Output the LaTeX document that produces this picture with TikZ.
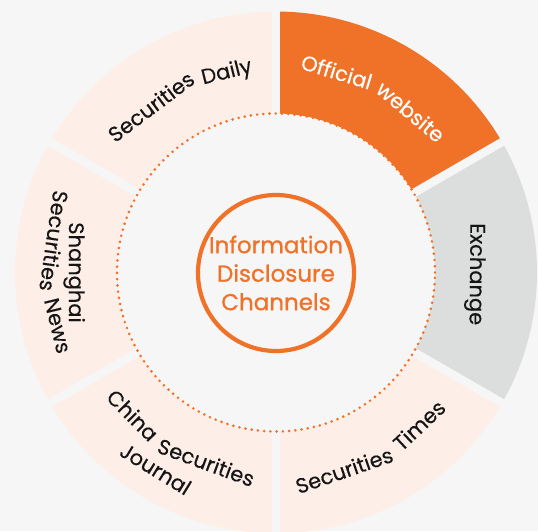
\documentclass[tikz,border=0pt]{standalone}
\usepackage{fontspec}
\setmainfont{Poppins}
\newfontfamily\lblfamily[FakeBold=0.3]{Poppins}
\newfontfamily\hubfamily[FakeBold=0.9]{Poppins}
\definecolor{bg}{HTML}{F6F6F6}
\definecolor{orng}{HTML}{F07128}
\definecolor{pale}{HTML}{FDEFE8}
\definecolor{grayc}{HTML}{DCDEDD}
\definecolor{ink}{HTML}{151515}
\newcommand{\lblfont}{\lblfamily\fontsize{21}{25}\selectfont}
\newlength\wdA \newlength\wdB \newlength\wdT
\newcommand{\drawsector}[3]{\fill[#3] (#1:159) arc[start angle=#1,end angle=#2,radius=159] -- (#2:261) arc[start angle=#2,end angle=#1,radius=261] -- cycle;}
% two words set along an arc: #1 name, #2 centre angle, #3 baseline radius,
% #4 sign (-1 clockwise reading, 1 counter-clockwise), #5 rotation offset, #6 colour, #7 word 1, #8 word 2, #9 extra gap
\newcommand{\arcpair}[9]{%
  \pgfinterruptpicture
    \settowidth\wdA{\lblfont #7}\global\wdA=\wdA
    \settowidth\wdB{\lblfont #8}\global\wdB=\wdB
    \settowidth\wdT{\lblfont #7 #8\hspace{#9}}\global\wdT=\wdT
  \endpgfinterruptpicture
  \pgfmathsetmacro\angA{#2-#4*(\wdT-\wdA)/2*57.29578/#3}%
  \pgfmathsetmacro\angB{#2+#4*(\wdT-\wdB)/2*57.29578/#3}%
  \node[lbl,text=#6,rotate=\angA+#5] (#1a) at (\angA:#3) {#7};
  \node[lbl,text=#6,rotate=\angB+#5] (#1b) at (\angB:#3) {#8};}
\begin{document}
\begin{tikzpicture}[x=1pt,y=1pt,
  gapline/.style={draw=bg,line width=8.4pt},
  dotring/.style={draw=orng,line width=2.9pt,line cap=round,dash pattern=on 0pt off 6.25pt},
  lbl/.style={anchor=base,inner sep=0pt,font=\lblfont},
  hub/.style={circle,draw=orng,line width=4.2pt,minimum size=156pt,inner sep=0pt,align=center,text=orng,font=\hubfamily\fontsize{23}{28.5}\selectfont}]
\fill[bg] (-276,-258.5) rectangle (262,272.5);
\useasboundingbox (-276,-258.5) rectangle (262,272.5);
% sectors
\drawsector{90}{150}{pale}
\drawsector{30}{90}{orng}
\drawsector{-30}{30}{grayc}
\drawsector{-90}{-30}{pale}
\drawsector{-150}{-90}{pale}
\drawsector{150}{210}{pale}
% gaps
\foreach \a in {30,90,150,210,270,330} \draw[gapline] (\a:150) -- (\a:272);
% dotted ring
\draw[dotring] (0,0) circle[radius=159];
% hub
\node[hub] (hub) at (0,-0.5) {Information\\Disclosure\\Channels};
% labels, clockwise (tops outward)
\arcpair{daily}{119}{200}{-1}{-90}{ink}{Securities}{Daily}{-1pt}
\arcpair{web}{61}{202}{-1}{-90}{white}{Official}{website}{-1pt}
\node[lbl,text=ink,rotate=-90.5] (exch) at (-0.5:194) {Exchange};
% labels, counter-clockwise (tops inward)
\arcpair{times}{-61.5}{217}{1}{90}{ink}{Securities}{Times}{4pt}
\arcpair{china}{-120}{210}{1}{90}{ink}{China}{Securities}{4pt}
\node[lbl,text=ink,rotate=-31.5] (journal) at (-121.5:238) {Journal};
\node[lbl,text=ink,rotate=270] (shanghai) at (180:207) {Shanghai};
\arcpair{news}{180}{232}{1}{90}{ink}{Securities}{News}{4pt}
\end{tikzpicture}
\end{document}
